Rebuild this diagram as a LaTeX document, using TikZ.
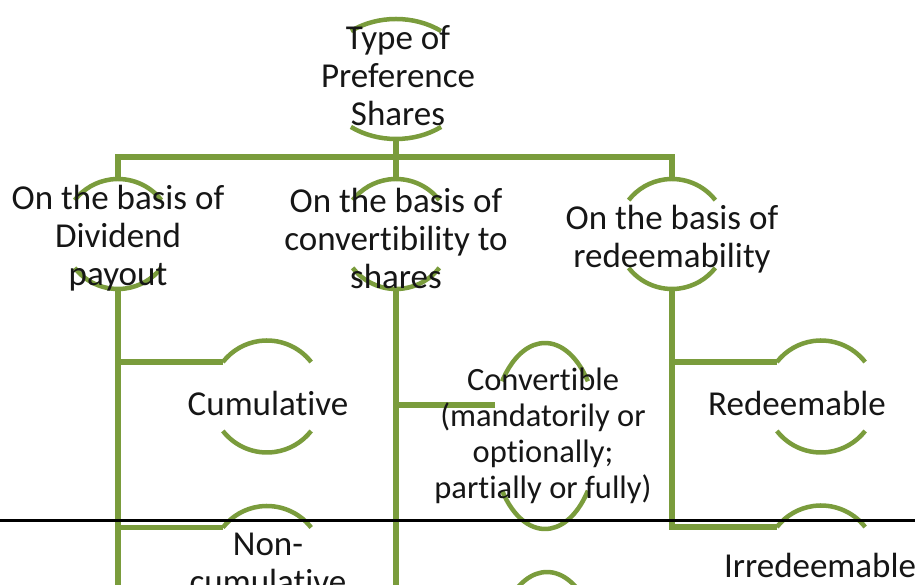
\documentclass[tikz,border=0pt]{standalone}
\usepackage{fontspec}
\setmainfont{Carlito}[Ligatures=NoCommon]
\usetikzlibrary{shapes.geometric}
\definecolor{branch}{RGB}{122,156,60}
\definecolor{ink}{RGB}{22,22,22}

% upper and lower rim arcs of a holder shape: name, x radius, y radius, start angle
\newcommand\twoarcs[4]{%
  \draw[rim] (#1.center) ++(#4:#2pt and #3pt)
    arc[start angle=#4, end angle=180-#4, x radius=#2pt, y radius=#3pt];
  \draw[rim] (#1.center) ++(180+#4:#2pt and #3pt)
    arc[start angle=180+#4, end angle=360-#4, x radius=#2pt, y radius=#3pt];}

\begin{document}
\begin{tikzpicture}[x=1pt,y=1pt,
  conn/.style={draw=branch, line width=5.5pt, line join=miter},
  rim/.style={draw=branch, line width=4.5pt},
  ring/.style={circle, inner sep=0pt, outer sep=0pt},
  oval/.style={ellipse, inner sep=0pt, outer sep=0pt},
  txt/.style={text=ink, align=center, inner sep=0pt,
              font=\fontsize{35}{38}\selectfont},
  smalltxt/.style={txt, font=\fontsize{32.5}{36}\selectfont}]
  \useasboundingbox (0,0) rectangle (915,585);
  \clip (0,0) rectangle (915,585);
  \fill[white] (0,0) rectangle (915,585);

  % holder shapes
  \node[oval, minimum width=150pt, minimum height=120pt] (root) at (396,506) {};
  \node[ring, minimum size=110pt] (divd) at (118,351) {};
  \node[ring, minimum size=110pt] (cnvb) at (396,351) {};
  \node[ring, minimum size=110pt] (redm) at (672,351) {};
  \node[ring, minimum size=112pt] (cumu) at (267,188.5) {};
  \node[ring, minimum size=112pt] (ncum) at (267,23) {};
  \node[oval, minimum width=106pt, minimum height=186pt] (cnvt) at (545,149) {};
  \node[oval, minimum width=106pt, minimum height=186pt] (ncnv) at (547,-80) {};
  \node[ring, minimum size=112pt] (rdm) at (821,188.5) {};
  \node[ring, minimum size=112pt] (irr) at (821,23.5) {};

  % rims
  \twoarcs{root}{75}{60}{53}
  \twoarcs{divd}{55}{55}{38}
  \twoarcs{cnvb}{55}{55}{38}
  \twoarcs{redm}{55}{55}{38}
  \twoarcs{cumu}{56}{56}{38}
  \twoarcs{ncum}{56}{56}{38}
  \twoarcs{cnvt}{53}{93}{36}
  \twoarcs{ncnv}{53}{93}{36}
  \twoarcs{rdm}{56}{56}{38}
  \twoarcs{irr}{56}{56}{38}

  % connectors
  \coordinate (bar) at (0,428);
  \coordinate (floor) at (0,-20);
  \draw[conn] (root.south) -- (cnvb.north);
  \draw[conn] (divd.north) -- (divd.north |- bar) -- (redm.north |- bar) -- (redm.north);
  \draw[conn] (divd.south) -- (divd.south |- floor);
  \draw[conn] (divd.south) |- (cumu.142);
  \draw[conn] (divd.south) |- (ncum.142);
  \draw[conn] (cnvb.south) -- (cnvb.south |- floor);
  \draw[conn] (cnvb.south) |- (cnvt.148);
  \draw[conn] (cnvb.south) |- (ncnv.148);
  \draw[conn] (redm.south) |- (rdm.142);
  \draw[conn] (redm.south) |- (irr.142);

  % texts
  \node[txt] (tRoot) at (398,509) {Type of\\Preference\\Shares};
  \node[txt] (tDivd) at (118,347) {On the basis of\\Dividend\\payout};
  \node[txt] (tCnvb) at (396,347) {On the basis of\\convertibility to\\shares};
  \node[txt] (tRedm) at (672,346) {On the basis of\\redeemability};
  \node[txt] (tCumu) at (268,182) {Cumulative};
  \node[txt] (tNcum) at (268,22) {Non-\\cumulative};
  \node[smalltxt] (tCnvt) at (543,149) {Convertible\\(mandatorily or\\optionally;\\partially or fully)};
  \node[txt] (tRdm) at (797,182) {Redeemable};
  \node[txt] (tIrr) at (820,20) {Irredeemable};

  % rule across the lower part
  \draw[line width=3pt, black] (0,64) -- (915,64);
\end{tikzpicture}
\end{document}
